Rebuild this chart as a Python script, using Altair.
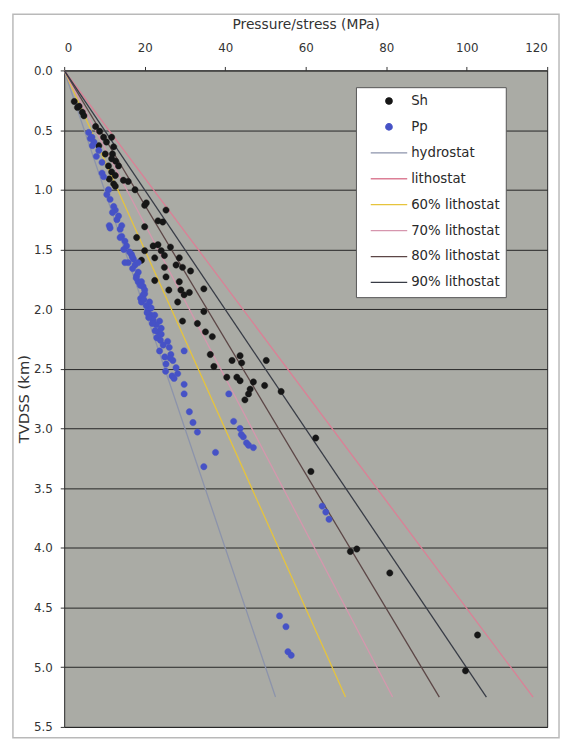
import altair as alt
import pandas as pd

# ---------------- data ----------------
sh_mpa = [2.5, 3.3, 3.7, 4.5, 4.9, 7.8, 8.8, 9.8, 11.8, 8.6, 10.5, 12.3, 10.2, 12.0, 11.8,
          12.8, 11.0, 13.5, 11.8, 12.7, 11.2, 12.3, 14.7, 15.9, 17.6, 20.0, 25.3, 23.3, 24.5,
          20.0, 18.0, 20.0, 22.1, 23.3, 24.1, 24.9, 26.4, 19.2, 22.5, 24.9, 28.6, 27.8, 29.4,
          31.4, 22.5, 25.3, 28.6, 26.0, 29.0, 31.1, 29.8, 28.2, 34.7, 34.7, 29.4, 33.1, 35.1,
          36.8, 36.3, 37.2, 41.7, 43.7, 44.1, 50.2, 40.4, 42.9, 43.7, 47.0, 46.2, 45.8, 44.9,
          49.8, 53.9, 62.5, 61.3, 71.1, 72.7, 80.9, 102.7, 99.7, 12.7, 20.4]
sh_km = [0.26, 0.31, 0.30, 0.35, 0.38, 0.47, 0.51, 0.56, 0.56, 0.63, 0.60, 0.64, 0.70, 0.70, 0.74,
         0.76, 0.80, 0.80, 0.85, 0.88, 0.91, 0.95, 0.92, 0.93, 1.00, 1.13, 1.17, 1.26, 1.27,
         1.31, 1.40, 1.51, 1.47, 1.46, 1.51, 1.55, 1.48, 1.59, 1.57, 1.65, 1.57, 1.63, 1.65,
         1.68, 1.76, 1.73, 1.77, 1.84, 1.84, 1.86, 1.88, 1.94, 1.83, 2.02, 2.10, 2.12, 2.19,
         2.23, 2.38, 2.48, 2.43, 2.39, 2.45, 2.43, 2.57, 2.57, 2.60, 2.61, 2.67, 2.71, 2.76,
         2.64, 2.69, 3.08, 3.36, 4.03, 4.01, 4.21, 4.73, 5.03, 0.97, 1.11]

pp_mpa = [6.1, 6.5, 6.9, 7.4, 8.6, 9.4, 9.4, 9.8, 11.0, 10.6, 11.4, 12.3, 12.7, 13.1, 13.5,
          11.2, 11.4, 13.9, 14.3, 14.3, 13.9, 15.1, 15.5, 16.7, 17.2, 15.9, 15.1, 17.6, 18.4,
          18.4, 18.0, 18.4, 19.2, 19.6, 20.0, 20.0, 19.6, 19.2, 21.2, 20.4, 20.8, 21.6, 21.6,
          22.5, 22.1, 23.7, 22.9, 24.1, 23.3, 24.1, 25.7, 26.1, 23.7, 29.8, 26.5, 27.0, 25.3,
          27.8, 28.2, 29.8, 29.8, 31.1, 33.1, 37.6, 34.7, 40.9, 42.1, 43.7, 44.5, 45.3, 45.8,
          47.0, 64.1, 65.0, 65.8, 53.5, 55.1, 55.6, 56.4,
          16.2, 16.9, 17.0, 17.9, 18.9, 19.0, 19.8, 20.6, 21.0, 21.9, 22.6, 23.0, 23.9, 24.6,
          25.0, 25.2, 26.3, 26.8, 27.3, 7.0, 8.0, 12.0, 14.8, 32.0, 44.0]
pp_km = [0.52, 0.57, 0.56, 0.60, 0.67, 0.77, 0.86, 0.89, 1.00, 1.04, 1.08, 1.14, 1.17, 1.25, 1.22,
         1.30, 1.32, 1.33, 1.30, 1.39, 1.40, 1.43, 1.47, 1.54, 1.58, 1.61, 1.61, 1.63, 1.61,
         1.69, 1.72, 1.77, 1.77, 1.81, 1.84, 1.87, 1.88, 1.94, 1.94, 1.97, 2.01, 1.99, 2.05,
         2.05, 2.09, 2.10, 2.13, 2.16, 2.19, 2.21, 2.27, 2.32, 2.35, 2.35, 2.38, 2.43, 2.46,
         2.49, 2.54, 2.63, 2.71, 2.86, 3.03, 3.20, 3.32, 2.71, 2.94, 3.00, 3.07, 3.12, 3.14,
         3.16, 3.65, 3.70, 3.76, 4.57, 4.66, 4.87, 4.90,
         1.52, 1.56, 1.66, 1.74, 1.80, 1.91, 1.92, 2.03, 2.07, 2.12, 2.18, 2.24, 2.26, 2.30,
         2.40, 2.52, 2.41, 2.56, 2.58, 0.63, 0.72, 1.19, 1.50, 2.95, 3.05]

line_names = ["hydrostat", "lithostat", "60% lithostat", "70% lithostat",
              "80% lithostat", "90% lithostat"]
line_start_mpa = [0, 0, 0, 0, 0, 0]
line_start_km = 0.0
line_end_mpa = [52.5, 116.5, 69.9, 81.6, 93.2, 104.9]
line_end_km = 5.25

series = ["Sh", "Pp"] + line_names
colors = ["#161616", "#4652c6", "#8c93ab", "#dc7f96", "#e6c43c", "#d696ae", "#5c4646", "#383c46"]

x_ticks = [0, 20, 40, 60, 80, 100, 120]
y_ticks = [0.0, 0.5, 1.0, 1.5, 2.0, 2.5, 3.0, 3.5, 4.0, 4.5, 5.0, 5.5]

# ---------------- tables ----------------
pts = pd.DataFrame({
    "mpa": sh_mpa + pp_mpa,
    "km": sh_km + pp_km,
    "series": ["Sh"] * len(sh_mpa) + ["Pp"] * len(pp_mpa),
})
rows = []
for n, s, e in zip(line_names, line_start_mpa, line_end_mpa):
    rows.append({"series": n, "mpa": s, "km": line_start_km})
    rows.append({"series": n, "mpa": e, "km": line_end_km})
lines_df = pd.DataFrame(rows)

dot = "M-0.175,0A0.175,0.175,0,1,0,0.175,0A0.175,0.175,0,1,0,-0.175,0Z"
shapes = [dot, dot] + ["stroke"] * len(line_names)

FONT = "DejaVu Sans"
xscale = alt.Scale(domain=[0, 120], nice=False, zero=False)
yscale = alt.Scale(domain=[0, 5.5], reverse=True, nice=False, zero=False)
xaxis = alt.Axis(orient="top", values=x_ticks, title="Pressure/stress (MPa)", grid=False,
                 labelFontSize=12, titleFontSize=14, labelPadding=12, titlePadding=11,
                 tickSize=4, labelFont=FONT, titleFont=FONT, titleFontWeight="normal",
                 labelColor="#333333", titleColor="#333333", domain=False, tickColor="#333333")
yaxis = alt.Axis(values=y_ticks, format=".1f", title="TVDSS (km)", grid=True,
                 gridColor="#262626", gridWidth=1, gridOpacity=1,
                 labelFontSize=12, titleFontSize=15, labelPadding=8, titlePadding=2,
                 tickSize=4, labelFont=FONT, titleFont=FONT, titleFontWeight="normal",
                 labelColor="#333333", titleColor="#333333", domain=False, tickColor="#333333")

legend = alt.Legend(orient="none", legendX=296, legendY=17, title=None,
                    fillColor="white", strokeColor="#555555", padding=6,
                    clipHeight=16, symbolOffset=8,
                    symbolSize=1369, symbolStrokeWidth=1.3, labelFont=FONT,
                    labelFontSize=13.5, labelColor="#2a2a2a", rowPadding=10.3,
                    labelOffset=3,
                    labelExpr="datum.label + '\u00a0\u00a0\u00a0\u00a0\u00a0'")

fill_scale = alt.Scale(domain=series, range=colors)
stroke_scale = alt.Scale(domain=series, range=colors)
shape_scale = alt.Scale(domain=series, range=shapes)

line_layer = alt.Chart(lines_df).mark_line(strokeWidth=1.3, clip=True).encode(
    x=alt.X("mpa:Q", scale=xscale, axis=xaxis),
    y=alt.Y("km:Q", scale=yscale, axis=yaxis),
    stroke=alt.Stroke("series:N", scale=stroke_scale, legend=legend),
    order=alt.Order("km:Q"),
)

point_layer = alt.Chart(pts).mark_point(filled=True, opacity=1, size=1369,
                                        strokeWidth=0.4).encode(
    x=alt.X("mpa:Q", scale=xscale, axis=xaxis),
    y=alt.Y("km:Q", scale=yscale, axis=yaxis),
    fill=alt.Fill("series:N", scale=fill_scale, legend=legend),
    stroke=alt.Stroke("series:N", scale=stroke_scale, legend=legend),
    shape=alt.Shape("series:N", scale=shape_scale, legend=legend),
)

frame = alt.Chart(pd.DataFrame({"f": [0]})).mark_rect(
    fillOpacity=0, stroke="#b9b9b9", strokeWidth=1.5, clip=False
).encode(x=alt.value(-52), x2=alt.value(502), y=alt.value(-57), y2=alt.value(677))

chart = alt.layer(frame, line_layer, point_layer).properties(
    width=490, height=666,
    background="white",
    autosize=alt.AutoSizeParams(type="none"),
    padding={"left": 57, "top": 58, "right": 13, "bottom": 12},
).configure_view(
    fill="#aaaba5", stroke="#262626", strokeWidth=1
)

chart.save("out.html", embed_options={"renderer": "svg", "actions": False})
